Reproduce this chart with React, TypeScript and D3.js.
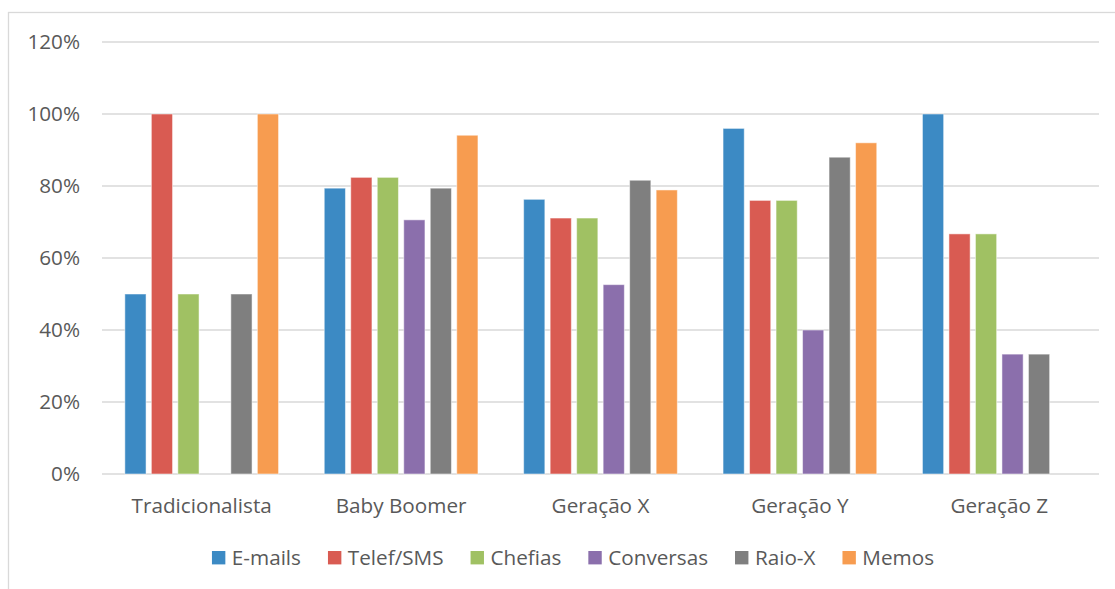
import React, { useEffect, useRef } from "react";
import * as d3 from "d3";

// Categories (generations) and series (communication channels)
const categories = ["Tradicionalista", "Baby Boomer", "Geração X", "Geração Y", "Geração Z"];
const seriesNames = ["E-mails", "Telef/SMS", "Chefias", "Conversas", "Raio-X", "Memos"];
const seriesColors = ["#3c8ac4", "#d95b52", "#a0c163", "#8b6fac", "#7f7f7f", "#f79c50"];

// Share per generation, one array per series (fractions)
const emails = [0.5, 0.794, 0.763, 0.96, 1.0];
const telefSms = [1.0, 0.824, 0.711, 0.76, 0.667];
const chefias = [0.5, 0.824, 0.711, 0.76, 0.667];
const conversas = [0, 0.706, 0.526, 0.4, 0.333];
const raioX = [0.5, 0.794, 0.816, 0.88, 0.333];
const memos = [1.0, 0.941, 0.789, 0.92, 0];

const seriesValues = [emails, telefSms, chefias, conversas, raioX, memos];
const yTicks = [0, 0.2, 0.4, 0.6, 0.8, 1.0, 1.2];

const W = 1115;
const H = 589;
const FONT = "'Open Sans', sans-serif";
const FONT_SIZE = 20.7;
const TEXT = "#595959";
const GRID = "#d9d9d9";

export default function App() {
  const ref = useRef<SVGSVGElement | null>(null);

  useEffect(() => {
    const svg = d3.select(ref.current);
    svg.selectAll("*").remove();

    const plot = { left: 102, right: 1099, top: 42, bottom: 474 };

    // Chart area frame
    svg
      .append("rect")
      .attr("x", 8.5)
      .attr("y", 12.5)
      .attr("width", W + 20)
      .attr("height", H + 20)
      .attr("fill", "#fff")
      .attr("stroke", GRID)
      .attr("stroke-width", 1.3);

    const y = d3.scaleLinear().domain([0, 1.2]).range([plot.bottom, plot.top]);
    const x0 = d3.scaleBand<string>().domain(categories).range([plot.left, plot.right]);
    const groupW = 159;
    const x1 = d3
      .scaleBand<string>()
      .domain(seriesNames)
      .range([0, groupW])
      .paddingInner(0.2)
      .paddingOuter(0.1);

    // Gridlines
    svg
      .append("g")
      .selectAll("line")
      .data(yTicks)
      .join("line")
      .attr("x1", plot.left)
      .attr("x2", plot.right)
      .attr("y1", (d) => y(d))
      .attr("y2", (d) => y(d))
      .attr("stroke", GRID)
      .attr("stroke-width", 1.3);

    // Y tick labels
    svg
      .append("g")
      .selectAll("text")
      .data(yTicks)
      .join("text")
      .attr("x", 80)
      .attr("y", (d) => y(d))
      .attr("dy", "0.35em")
      .attr("text-anchor", "end")
      .attr("font-family", FONT)
      .attr("font-size", FONT_SIZE)
      .attr("fill", TEXT)
      .text((d) => d3.format(".0%")(d));

    // Bars
    const groups = svg
      .append("g")
      .selectAll("g")
      .data(categories)
      .join("g")
      .attr("transform", (c) => `translate(${(x0(c) as number) + (x0.bandwidth() - groupW) / 2},0)`);

    groups
      .selectAll("rect")
      .data((c, ci) => seriesNames.map((s, si) => ({ s, si, v: seriesValues[si][ci] })))
      .join("rect")
      .filter((d) => d.v > 0)
      .attr("x", (d) => x1(d.s) as number)
      .attr("width", x1.bandwidth())
      .attr("y", (d) => y(d.v))
      .attr("height", (d) => y(0) - y(d.v))
      .attr("fill", (d) => seriesColors[d.si])
      .attr("stroke", "#ffffff")
      .attr("stroke-opacity", 0.5)
      .attr("stroke-width", 1);

    // Category labels
    svg
      .append("g")
      .selectAll("text")
      .data(categories)
      .join("text")
      .attr("x", (c) => (x0(c) as number) + x0.bandwidth() / 2)
      .attr("y", 513)
      .attr("text-anchor", "middle")
      .attr("font-family", FONT)
      .attr("font-size", FONT_SIZE)
      .attr("fill", TEXT)
      .text((c) => c);

    // Legend, laid out from measured label widths and centred
    const legend = svg.append("g");
    const sq = 13.4;
    const gapText = 6.5;
    const gapItem = 27;
    const items = legend
      .selectAll("g")
      .data(seriesNames)
      .join("g");
    items
      .append("rect")
      .attr("width", sq)
      .attr("height", sq)
      .attr("y", 551)
      .attr("fill", (_, i) => seriesColors[i]);
    const labels = items
      .append("text")
      .attr("x", sq + gapText)
      .attr("y", 565)
      .attr("font-family", FONT)
      .attr("font-size", FONT_SIZE)
      .attr("fill", TEXT)
      .text((d) => d);
    const widths: number[] = [];
    labels.each(function () {
      widths.push((this as SVGTextElement).getComputedTextLength());
    });
    const itemW = widths.map((w) => sq + gapText + w);
    const total = d3.sum(itemW) + gapItem * (itemW.length - 1);
    let cx = 573 - total / 2;
    items.attr("transform", (_, i) => {
      const t = `translate(${cx},0)`;
      cx += itemW[i] + gapItem;
      return t;
    });
  }, []);

  return (
    <svg
      ref={ref}
      width={W}
      height={H}
      style={{ position: "absolute", left: 0, top: 0, background: "#fff" }}
    />
  );
}
